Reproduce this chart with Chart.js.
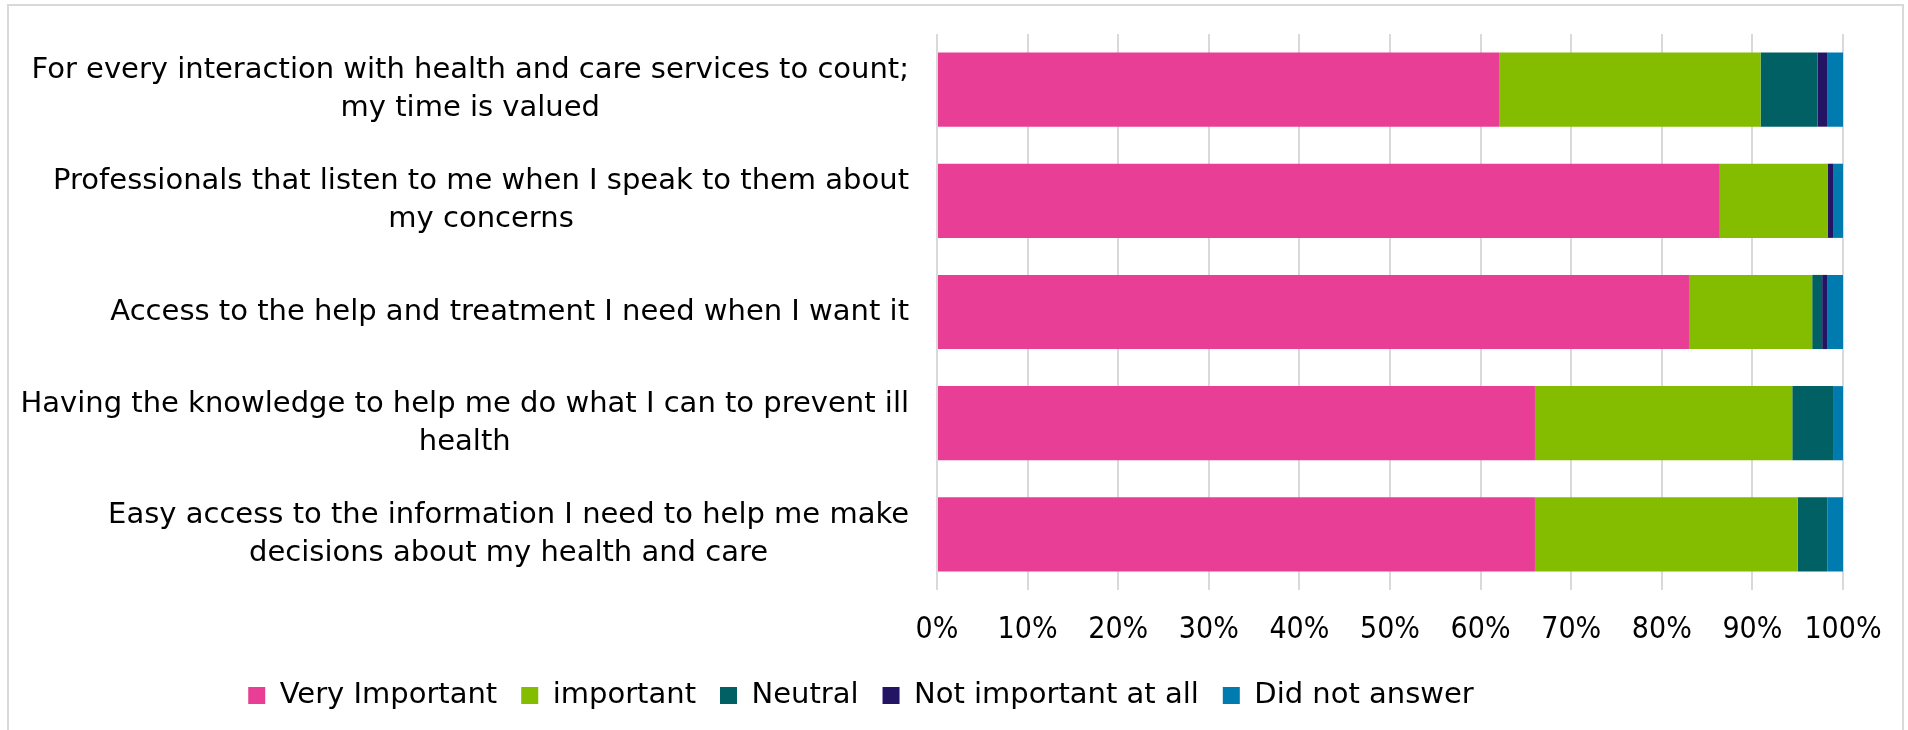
<!DOCTYPE html>
<html>
<head>
<meta charset="utf-8">
<title>What matters most</title>
<script src="https://cdn.jsdelivr.net/npm/chart.js@4.4.1/dist/chart.umd.min.js"></script>
<style>
  html, body { margin: 0; padding: 0; background: #fff; }
  #wrap { position: relative; width: 1908px; height: 730px; overflow: hidden; }
  #frame {
    position: absolute; left: 7px; top: 4px; width: 1897px; height: 740px;
    border: 2px solid #d9d9d9; box-sizing: border-box; pointer-events: none;
  }
</style>
</head>
<body>
<div id="wrap">
  <canvas id="chart" width="1908" height="730"></canvas>
  <div id="frame"></div>
</div>
<script>
// Survey statements (each one is a row of the chart)
const statements = [
    ["For every interaction with health and care services to count;", "my time is valued"],
    ["Professionals that listen to me when I speak to them about", "my concerns"],
    ["Access to the help and treatment I need when I want it"],
    ["Having the knowledge to help me do what I can to prevent ill", "health"],
    ["Easy access to the information I need to help me make", "decisions about my health and care"]
];

// Share of responses (%) per answer
const veryImportant = [62.1, 86.4, 83.0, 66.0, 66.0];
const important = [28.8, 11.9, 13.6, 28.4, 29.0];
const neutral = [6.3, 0, 1.1, 4.5, 3.3];
const notImportant = [1.1, 0.6, 0.6, 0, 0];
const didNotAnswer = [1.7, 1.1, 1.7, 1.1, 1.7];

const xTicks = [0, 10, 20, 30, 40, 50, 60, 70, 80, 90, 100];

const LABEL_FONT = '29px "DejaVu Sans", sans-serif';

// Draws the statement text beside each bar: block right-aligned, lines centred
const statementLabels = {
    id: 'statementLabels',
    afterDraw(chart) {
        const ctx = chart.ctx;
        const yScale = chart.scales.y;
        ctx.save();
        ctx.font = LABEL_FONT;
        ctx.fillStyle = '#000';
        ctx.textAlign = 'center';
        ctx.textBaseline = 'middle';
        statements.forEach(function(lines, i) {
            const yMid = yScale.getPixelForTick(i);
            let maxW = 0;
            lines.forEach(function(l) { maxW = Math.max(maxW, ctx.measureText(l).width); });
            const cx = 909 - maxW / 2;
            lines.forEach(function(l, j) {
                ctx.fillText(l, cx, yMid + (j - (lines.length - 1) / 2) * 38);
            });
        });
        ctx.restore();
    }
};

// Shift the legend row so it sits left of centre
const legendShift = {
    id: 'legendShift',
    afterLayout(chart) {
        const lg = chart.legend;
        if (!lg) return;
        const shift = 861 - (lg.left + lg.right) / 2;
        lg.left += shift;
        lg.right += shift;
    }
};

const colours = ['#e83e95', '#84bd00', '#006064', '#231464', '#007baf'];
const names = ['Very Important', 'important', 'Neutral', 'Not important at all', 'Did not answer'];
const series = [veryImportant, important, neutral, notImportant, didNotAnswer];

const chart = new Chart(document.getElementById('chart'), {
    type: 'bar',
    data: {
        labels: statements.map(function(s) { return s.join(' '); }),
        datasets: series.map(function(values, i) {
            return {
                label: names[i],
                data: values,
                backgroundColor: colours[i],
                borderWidth: 0,
                barPercentage: 0.667,
                categoryPercentage: 1
            };
        })
    },
    options: {
        indexAxis: 'y',
        responsive: false,
        animation: false,
        layout: { padding: { top: 34, right: 65, bottom: 10, left: 0 } },
        scales: {
            x: {
                stacked: true,
                min: 0,
                max: 100,
                afterBuildTicks(scale) {
                    scale.ticks = xTicks.map(function(v) { return { value: v }; });
                },
                afterFit(scale) { scale.height = 67; },
                grid: { color: '#d9d9d9', lineWidth: 2, drawTicks: false },
                border: { display: false },
                ticks: {
                    padding: 22,
                    color: '#000',
                    font: { family: '"DejaVu Sans Condensed", "DejaVu Sans", sans-serif', size: 30 },
                    callback: function(v) { return v + '%'; }
                }
            },
            y: {
                stacked: true,
                afterFit(scale) { scale.width = 937; },
                grid: { display: false },
                border: { display: false },
                ticks: { display: false }
            }
        },
        plugins: {
            legend: {
                position: 'bottom',
                labels: {
                    boxWidth: 17,
                    boxHeight: 17,
                    padding: 24,
                    color: '#000',
                    font: { family: '"DejaVu Sans", sans-serif', size: 29 }
                }
            },
            tooltip: { enabled: false }
        }
    },
    plugins: [statementLabels, legendShift]
});
</script>
</body>
</html>
